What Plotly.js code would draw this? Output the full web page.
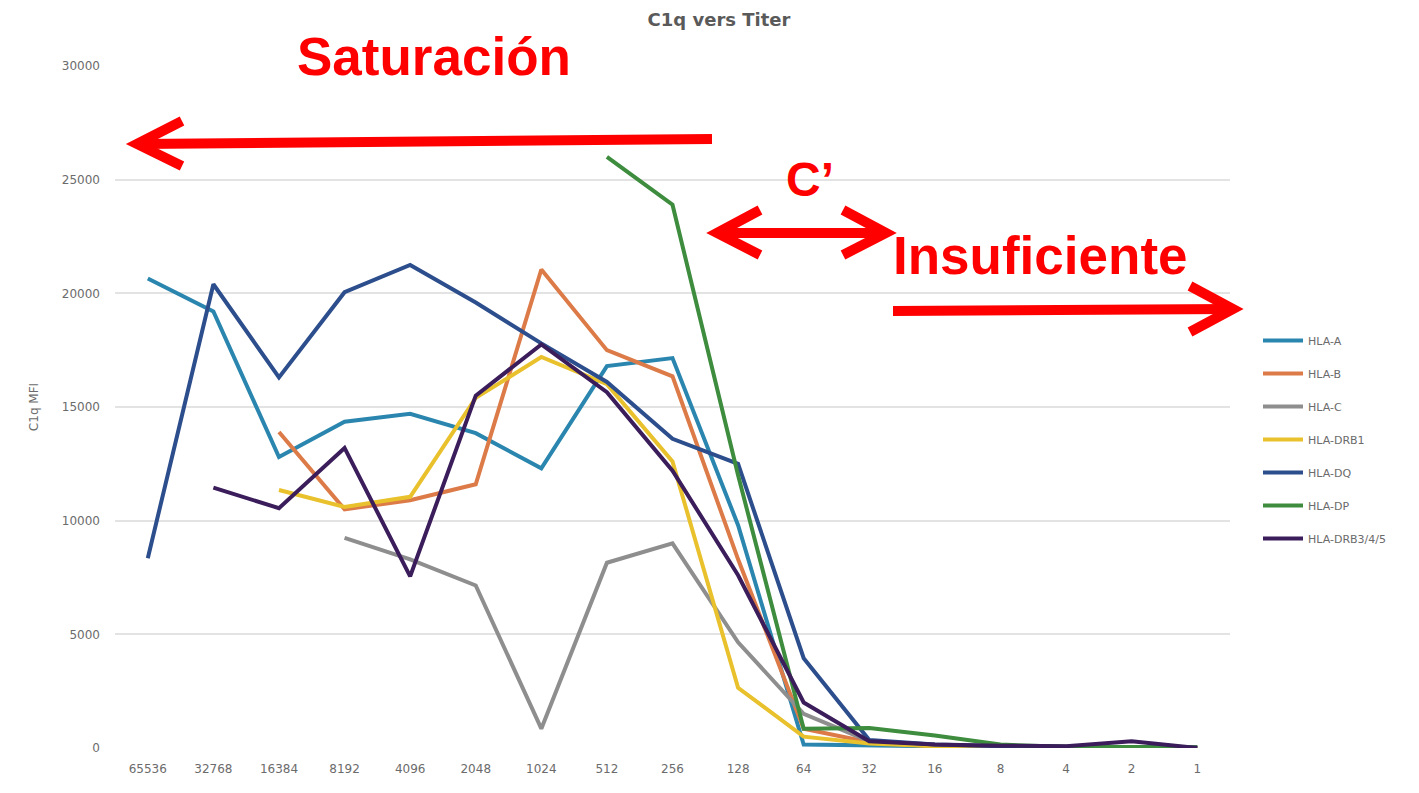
<!DOCTYPE html>
<html>
<head>
<meta charset="utf-8">
<script src="https://cdn.plot.ly/plotly-3.0.1.min.js"></script>
<style>html,body{margin:0;padding:0;background:#fff;}#chart{width:1419px;height:793px;}</style>
</head>
<body>
<div id="chart"></div>
<script>
// ---- data ----
const titers = ["65536","32768","16384","8192","4096","2048","1024","512","256","128","64","32","16","8","4","2","1"];
const seriesNames = ["HLA-A","HLA-B","HLA-C","HLA-DRB1","HLA-DQ","HLA-DP","HLA-DRB3/4/5"];
const hlaA    = [20650, 19200, 12800, 14350, 14700, 13850, 12300, 16800, 17150, 9800, 150, 100, 60, 40, 30, 30, 20];
const hlaB    = [null, null, 13900, 10500, 10900, 11600, 21050, 17500, 16350, 8300, 850, 250, 80, 50, 40, 30, 20];
const hlaC    = [null, null, null, 9240, 8300, 7150, 850, 8150, 9000, 4650, 1500, 300, 100, 60, 40, 30, 20];
const hlaDRB1 = [null, null, 11350, 10600, 11050, 15400, 17200, 16000, 12600, 2650, 500, 200, 80, 50, 40, 30, 20];
const hlaDQ   = [8350, 20400, 16300, 20050, 21250, 19600, 17800, 16100, 13600, 12500, 3950, 350, 150, 80, 60, 50, 30];
const hlaDP   = [null, null, null, null, null, null, null, 26000, 23900, 12000, 850, 880, 550, 150, 50, 40, 20];
const hlaDRB345 = [null, 11450, 10550, 13200, 7550, 15500, 17750, 15650, 12200, 7600, 2000, 300, 150, 100, 80, 300, 0];
const yTicks = [0, 5000, 10000, 15000, 20000, 25000, 30000];
const titleText = "C1q vers Titer";
const yTitleText = "C1q MFI";
const labelSat = "Saturación";
const labelC = "C’";
const labelIns = "Insuficiente";

// ---- styling ----
const seriesValues = [hlaA, hlaB, hlaC, hlaDRB1, hlaDQ, hlaDP, hlaDRB345];
const colors = ["#2A86AE", "#DC7B48", "#8E8E8E", "#E9C12C", "#2D4E8C", "#3E8C3E", "#3A1D5A"];

const traces = seriesValues.map((vals, i) => ({
  type: "scatter",
  mode: "lines",
  x: titers,
  y: vals,
  name: seriesNames[i],
  legendgroup: "g" + i,
  line: {color: colors[i], width: 4},
  connectgaps: false
}));

// plot-area geometry in pixels (for decorative annotation placement)
const L = 115, R = 1230, T = 66, B = 748;
const px = x => (x - L) / (R - L);
const py = y => (B - y) / (B - T);
function path(points) {
  return points.map((p, k) => (k ? "L" : "M") + px(p[0]).toFixed(5) + "," + py(p[1]).toFixed(5)).join(" ");
}
const red = "#FF0000";
const arrowLine = {color: red, width: 10};
const shapes = [
  {type: "path", xref: "paper", yref: "paper", path: path([[712,139],[140,144]]), line: arrowLine},
  {type: "path", xref: "paper", yref: "paper", path: path([[182,121],[137,144],[182,166]]), line: arrowLine},
  {type: "path", xref: "paper", yref: "paper", path: path([[718,233],[885,233]]), line: arrowLine},
  {type: "path", xref: "paper", yref: "paper", path: path([[760,210],[717,233],[760,255]]), line: arrowLine},
  {type: "path", xref: "paper", yref: "paper", path: path([[843,210],[886,233],[843,255]]), line: arrowLine},
  {type: "path", xref: "paper", yref: "paper", path: path([[893,311],[1230,309]]), line: arrowLine},
  {type: "path", xref: "paper", yref: "paper", path: path([[1190,286],[1233,309],[1190,332]]), line: arrowLine}
];
const bigFont = (s) => ({family: "Liberation Sans, Arial, sans-serif", size: s, color: red, weight: "bold"});
const annotations = [
  {xref: "paper", yref: "paper", x: px(434), y: py(56), text: "<b>" + labelSat + "</b>", showarrow: false, font: bigFont(53), xanchor: "center", yanchor: "middle"},
  {xref: "paper", yref: "paper", x: px(810), y: py(180), text: "<b>" + labelC + "</b>", showarrow: false, font: bigFont(48), xanchor: "center", yanchor: "middle"},
  {xref: "paper", yref: "paper", x: px(1040), y: py(256), text: "<b>" + labelIns + "</b>", showarrow: false, font: bigFont(53), xanchor: "center", yanchor: "middle"}
];

const tickFont = {family: "DejaVu Sans, sans-serif", size: 12, color: "#6B6B6B"};
const layout = {
  width: 1419, height: 793,
  paper_bgcolor: "#FFFFFF", plot_bgcolor: "#FFFFFF",
  margin: {l: L, r: 1419 - R, t: T, b: 793 - B, pad: 0},
  font: {family: "DejaVu Sans, sans-serif", color: "#6B6B6B", size: 11},
  title: {text: "<b>" + titleText + "</b>", x: 719 / 1419, xref: "container", xanchor: "center", y: 1 - 20 / 793, yref: "container", yanchor: "middle", font: {size: 18, color: "#5A5A5A", family: "DejaVu Sans, sans-serif"}},
  xaxis: {
    type: "category", range: [-0.5, titers.length - 0.5],
    showgrid: false, zeroline: false, showline: false, ticks: "",
    tickfont: tickFont, ticklabelstandoff: 12, fixedrange: true
  },
  yaxis: {
    range: [0, 30000], tickvals: yTicks, ticktext: yTicks.map(String),
    showgrid: true, gridcolor: "#E3E3E3", gridwidth: 2, zeroline: false, showline: false, ticks: "",
    tickfont: tickFont, ticklabelstandoff: 14,
    title: {text: yTitleText, font: {family: "DejaVu Sans, sans-serif", size: 12, color: "#6B6B6B"}, standoff: 20}, fixedrange: true
  },
  showlegend: true,
  legend: {
    x: px(1258), y: py(326), xanchor: "left", yanchor: "top",
    font: {family: "DejaVu Sans, sans-serif", size: 11, color: "#6B6B6B"}, tracegroupgap: 14, itemwidth: 40,
    bgcolor: "rgba(0,0,0,0)"
  },
  shapes: shapes,
  annotations: annotations
};

Plotly.newPlot("chart", traces, layout, {displayModeBar: false, staticPlot: true});
</script>
</body>
</html>
